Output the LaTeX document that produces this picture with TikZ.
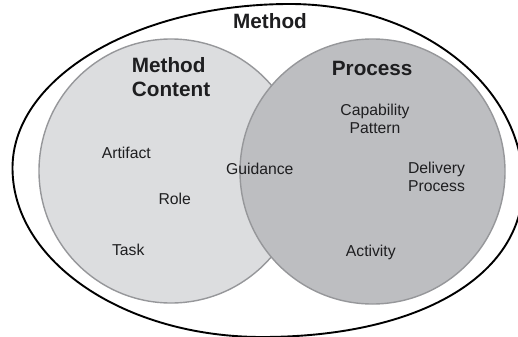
\documentclass[tikz,border=0pt]{standalone}
\usepackage{fontspec}
\setmainfont{Liberation Sans}
\definecolor{txt}{RGB}{30,30,32}
\definecolor{lightset}{RGB}{220,221,223}
\definecolor{darkset}{RGB}{189,190,193}
\definecolor{ring}{RGB}{150,151,154}
\begin{document}
\begin{tikzpicture}[x=1bp,y=1bp,
  title/.style={font=\fontsize{20.8}{24}\selectfont\bfseries, text=txt, inner sep=0pt},
  lbl/.style={font=\fontsize{15.8}{18.3}\selectfont, text=txt, inner sep=0pt, align=center},
  setring/.style={circle, draw=ring, line width=1.4bp, inner sep=0pt},
  outerring/.style={draw=black, line width=1.9bp}]
\useasboundingbox (0,0) rectangle (518,336);
\clip (0,0) rectangle (518,336);
\fill[white] (0,0) rectangle (518,336);
% outer "Method" boundary
\coordinate (mL) at (12.5,168);
\coordinate (mT) at (290,332);
\coordinate (mR) at (523,151);
\coordinate (mB) at (262,-1);
\draw[outerring] (mL) .. controls (12.5,258.6) and (136.7,332) .. (mT)
  .. controls (418.7,332) and (523,251) .. (mR)
  .. controls (523,59.8) and (418.6,-1) .. (mB)
  .. controls (124.2,-1) and (12.5,74.7) .. (mL) -- cycle;
\node[setring, fill=lightset, minimum size=264bp] (content) at (171,165) {};
\node[setring, fill=darkset, minimum size=265bp] (process) at (372.5,164.5) {};
\node[title, anchor=base] (tmethod) at (270,308) {Method};
\node[title, anchor=base west, align=left] (tcontent) at (131.7,239.3) {Method\\Content};
\node[title, anchor=base] (tprocess) at (372.2,261) {Process};
\node[lbl, anchor=base] (capability) at (375,202.7) {Capability\\Pattern};
\node[lbl, anchor=base] (artifact) at (126.3,177.7) {Artifact};
\node[lbl, anchor=base] (role) at (174.8,131.5) {Role};
\node[lbl, anchor=base] (task) at (128.2,80.3) {Task};
\node[lbl, anchor=base] (guidance) at (259.7,162) {Guidance};
\node[lbl, anchor=base] (delivery) at (436.5,144.4) {Delivery\\Process};
\node[lbl, anchor=base] (activity) at (370.8,80) {Activity};
\end{tikzpicture}
\end{document}
